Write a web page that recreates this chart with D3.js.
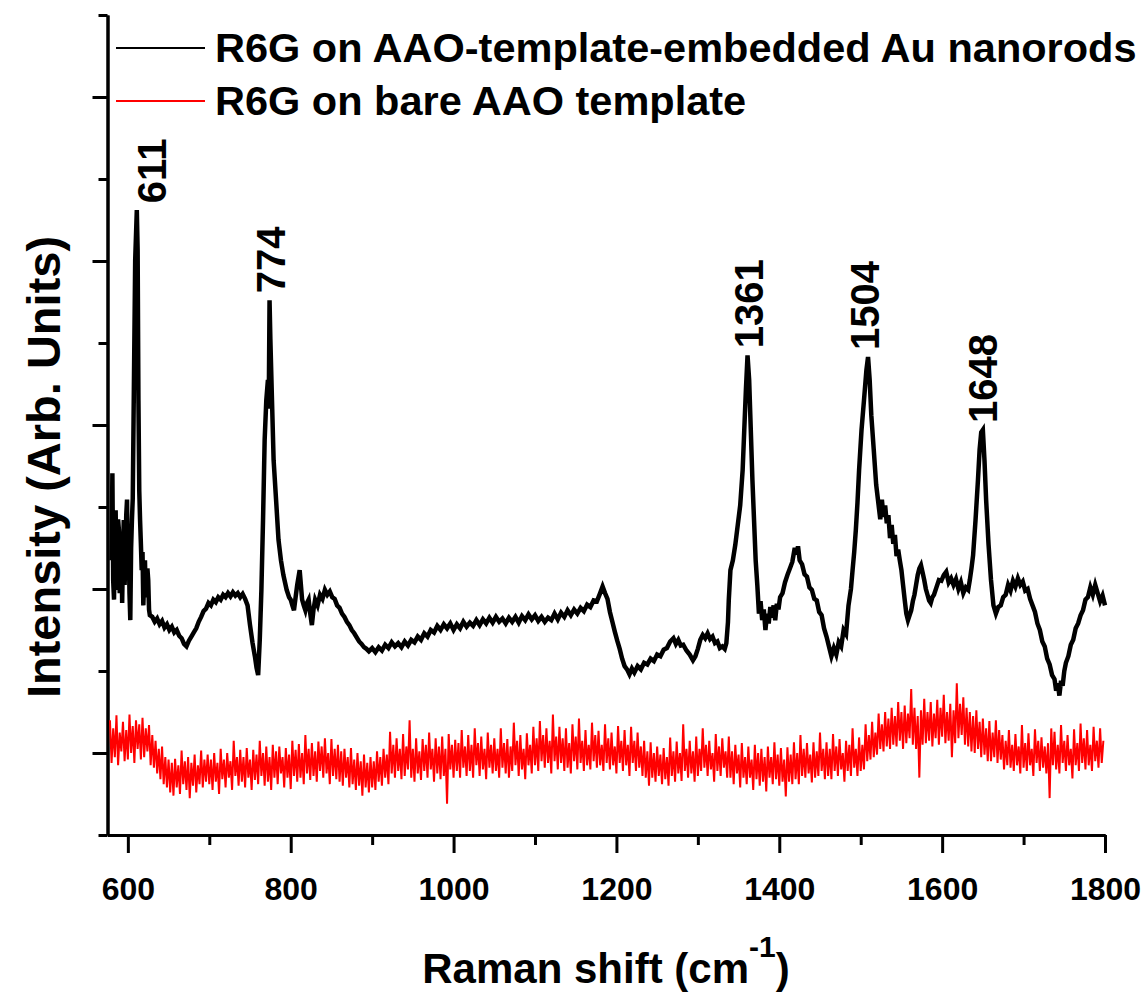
<!DOCTYPE html>
<html>
<head>
<meta charset="utf-8">
<script src="https://cdn.jsdelivr.net/npm/d3@7"></script>
<style>
body { margin: 0; background: #fff; }
text { font-family: Arial, "Liberation Sans", sans-serif; font-weight: bold; fill: #000; }
</style>
</head>
<body>
<script>
// Raman spectra: [shift (cm-1), intensity (arb.)]
var auNanorods = [
  [580,2.35],[581,3.41],[582,2.10],[583,1.87],[584,2.60],[585,2.96],[586,2.20],[587,1.99],[588,2.85],[589,2.72],
  [590,1.95],[591,2.11],[592,2.70],[593,1.83],[594,2.45],[595,2.84],[596,2.05],[597,2.35],[598,2.90],[599,3.09],
  [600,2.15],[601,2.60],[602,1.95],[603,1.62],[604,2.50],[605,2.84],[606,3.10],[607,4.06],[609,6.01],[611,6.62],
  [612,6.13],[613,4.30],[614,3.20],[615,2.84],[616,2.55],[617,2.23],[618,2.45],[619,1.80],[620,2.10],[621,2.35],
  [622,1.90],[623,1.99],[624,2.25],[625,2.11],[626,1.75],[627,1.68],[630,1.66],[633,1.60],[636,1.64],[639,1.57],
  [642,1.61],[645,1.53],[648,1.57],[651,1.50],[654,1.54],[657,1.47],[660,1.50],[663,1.43],[666,1.40],[669,1.33],
  [672,1.30],[675,1.37],[678,1.42],[681,1.47],[684,1.52],[687,1.60],[690,1.66],[693,1.73],[696,1.76],[699,1.83],
  [702,1.80],[705,1.87],[708,1.84],[711,1.90],[714,1.87],[717,1.93],[720,1.90],[723,1.95],[726,1.91],[729,1.96],
  [732,1.92],[735,1.95],[738,1.90],[741,1.94],[744,1.88],[747,1.80],[750,1.56],[753,1.35],[756,1.18],[758,1.04],
  [760,0.95],[762,1.38],[764,1.99],[766,2.84],[768,3.82],[770,4.30],[772,4.55],[773,4.20],[774,5.52],[775,5.05],
  [777,4.30],[779,3.57],[782,3.09],[785,2.60],[788,2.35],[791,2.17],[795,1.99],[798,1.90],[800,1.87],[802,1.80],
  [804,1.74],[806,1.90],[808,2.05],[811,2.23],[814,1.87],[816,1.80],[818,1.74],[820,1.83],[822,1.87],[824,1.70],
  [826,1.56],[828,1.75],[830,1.87],[833,1.80],[836,1.93],[839,1.88],[842,1.99],[845,1.93],[848,1.97],[851,1.90],
  [854,1.88],[857,1.80],[860,1.77],[863,1.70],[866,1.66],[869,1.60],[872,1.56],[875,1.50],[878,1.46],[881,1.41],
  [884,1.36],[887,1.33],[890,1.29],[893,1.27],[896,1.24],[900,1.28],[904,1.23],[908,1.29],[912,1.25],[916,1.32],
  [920,1.28],[924,1.35],[928,1.30],[932,1.34],[936,1.29],[940,1.36],[944,1.31],[948,1.38],[952,1.35],[956,1.42],
  [960,1.38],[964,1.46],[968,1.42],[972,1.50],[976,1.47],[980,1.55],[984,1.50],[988,1.57],[992,1.52],[996,1.58],
  [1000,1.50],[1004,1.57],[1008,1.52],[1012,1.60],[1016,1.54],[1020,1.59],[1024,1.55],[1028,1.62],[1032,1.56],[1036,1.63],
  [1040,1.58],[1044,1.65],[1048,1.59],[1052,1.66],[1056,1.60],[1060,1.64],[1064,1.58],[1068,1.65],[1072,1.60],[1076,1.66],
  [1080,1.59],[1084,1.67],[1088,1.62],[1092,1.69],[1096,1.63],[1100,1.68],[1104,1.61],[1108,1.66],[1112,1.60],[1116,1.65],
  [1120,1.62],[1124,1.70],[1128,1.63],[1132,1.71],[1136,1.66],[1140,1.74],[1144,1.68],[1148,1.75],[1152,1.70],[1156,1.77],
  [1160,1.73],[1164,1.81],[1168,1.78],[1172,1.86],[1176,1.85],[1180,1.95],[1183,2.03],[1186,1.95],[1189,1.88],[1192,1.72],
  [1195,1.60],[1198,1.48],[1201,1.37],[1204,1.27],[1207,1.15],[1210,1.06],[1213,1.02],[1216,0.96],[1219,1.03],[1222,0.98],
  [1226,1.06],[1230,1.02],[1234,1.10],[1238,1.08],[1242,1.15],[1246,1.12],[1250,1.20],[1254,1.18],[1258,1.26],[1262,1.28],
  [1266,1.36],[1270,1.40],[1273,1.33],[1276,1.38],[1279,1.31],[1282,1.32],[1286,1.25],[1290,1.20],[1294,1.13],[1297,1.18],
  [1300,1.27],[1303,1.38],[1306,1.44],[1309,1.40],[1312,1.46],[1315,1.39],[1318,1.42],[1321,1.34],[1324,1.36],[1327,1.28],
  [1330,1.30],[1333,1.27],[1335,1.34],[1337,1.60],[1338,1.87],[1340,2.23],[1343,2.35],[1346,2.54],[1349,2.78],[1352,3.02],
  [1355,3.45],[1357,3.94],[1359,4.43],[1361,4.85],[1363,4.55],[1365,3.94],[1367,3.33],[1369,2.84],[1371,2.35],[1373,2.05],
  [1375,1.70],[1377,1.85],[1379,1.62],[1381,1.75],[1383,1.50],[1385,1.70],[1387,1.58],[1389,1.78],[1391,1.65],[1393,1.80],
  [1395,1.62],[1397,1.82],[1399,1.75],[1401,1.90],[1404,1.95],[1407,2.08],[1410,2.17],[1413,2.25],[1416,2.33],[1419,2.50],
  [1421,2.42],[1423,2.52],[1425,2.35],[1428,2.30],[1431,2.18],[1434,2.15],[1437,2.02],[1440,1.99],[1443,1.88],[1446,1.86],
  [1449,1.72],[1452,1.68],[1455,1.52],[1458,1.42],[1461,1.30],[1464,1.18],[1467,1.28],[1470,1.20],[1473,1.35],[1476,1.30],
  [1479,1.50],[1482,1.45],[1485,1.80],[1488,2.00],[1490,2.23],[1492,2.45],[1494,2.72],[1496,3.05],[1498,3.45],[1501,3.94],
  [1504,4.30],[1507,4.67],[1509,4.83],[1511,4.55],[1513,4.12],[1516,3.70],[1519,3.27],[1522,3.02],[1524,2.85],[1526,3.09],
  [1528,2.88],[1530,3.02],[1532,2.80],[1534,2.90],[1536,2.62],[1538,2.78],[1540,2.55],[1542,2.66],[1544,2.40],[1546,2.48],
  [1548,2.35],[1550,2.23],[1552,2.05],[1554,1.87],[1556,1.70],[1558,1.62],[1560,1.68],[1562,1.74],[1564,1.85],[1566,1.93],
  [1568,2.05],[1570,2.17],[1572,2.25],[1574,2.29],[1576,2.20],[1578,2.11],[1580,2.00],[1582,1.93],[1584,1.86],[1586,1.83],
  [1588,1.90],[1590,1.93],[1593,2.02],[1596,2.11],[1599,2.10],[1602,2.17],[1605,2.21],[1608,2.08],[1611,2.13],[1614,2.05],
  [1617,2.12],[1620,2.00],[1623,2.08],[1626,1.95],[1629,2.02],[1632,1.99],[1634,2.11],[1636,2.25],[1638,2.41],[1641,2.84],
  [1644,3.33],[1646,3.70],[1648,3.91],[1650,3.94],[1652,3.57],[1654,3.09],[1657,2.54],[1660,2.11],[1663,1.80],[1666,1.70],
  [1669,1.78],[1672,1.80],[1675,1.90],[1678,1.93],[1681,2.05],[1684,1.98],[1687,2.10],[1690,2.03],[1693,2.13],[1696,2.05],
  [1699,2.09],[1702,1.98],[1705,2.00],[1708,1.88],[1711,1.80],[1714,1.72],[1717,1.58],[1720,1.50],[1723,1.36],[1726,1.30],
  [1729,1.15],[1732,1.08],[1735,0.95],[1738,0.90],[1740,0.76],[1742,0.85],[1744,0.70],[1746,0.88],[1748,0.82],[1750,1.00],
  [1752,1.10],[1755,1.18],[1758,1.32],[1761,1.38],[1764,1.52],[1767,1.58],[1770,1.68],[1773,1.74],[1776,1.87],[1779,1.90],
  [1782,2.02],[1785,1.93],[1788,2.05],[1791,1.95],[1794,1.85],[1797,1.92],[1800,1.80]
];

var bareAAO = [
  [578,0.40],[580,-0.12],[582,0.30],[584,-0.05],[586,0.46],[588,-0.15],[590,0.25],[592,0.02],[594,0.38],[596,-0.10],
  [598,0.28],[600,-0.08],[602,0.47],[604,0.00],[606,0.33],[608,-0.12],[610,0.40],[612,0.05],[614,0.35],[616,-0.08],
  [618,0.43],[620,-0.05],[622,0.30],[624,0.02],[626,0.34],[628,-0.15],[630,0.22],[632,-0.18],[634,0.15],[636,-0.25],
  [638,0.05],[640,-0.32],[642,0.08],[644,-0.38],[646,-0.05],[648,-0.42],[650,-0.08],[652,-0.48],[654,-0.12],[656,-0.52],
  [658,-0.07],[660,-0.42],[662,-0.15],[664,-0.50],[666,0.03],[668,-0.38],[670,-0.10],[672,-0.45],[674,-0.05],[676,-0.55],
  [678,-0.12],[680,-0.40],[682,-0.02],[684,-0.48],[686,-0.15],[688,-0.38],[690,0.03],[692,-0.42],[694,-0.08],[696,-0.35],
  [698,-0.02],[700,-0.38],[702,-0.08],[704,-0.45],[706,0.00],[708,-0.35],[710,-0.12],[712,-0.50],[714,0.05],[716,-0.32],
  [718,-0.08],[720,-0.42],[722,0.00],[724,-0.30],[726,-0.10],[728,-0.45],[730,0.15],[732,-0.28],[734,-0.05],[736,-0.40],
  [738,0.04],[740,-0.35],[742,-0.05],[744,-0.42],[746,0.06],[748,-0.30],[750,-0.08],[752,-0.45],[754,0.04],[756,-0.33],
  [758,-0.02],[760,-0.38],[762,0.15],[764,-0.28],[766,0.00],[768,-0.40],[770,0.08],[772,-0.35],[774,-0.05],[776,-0.45],
  [778,0.10],[780,-0.30],[782,0.02],[784,-0.38],[786,0.08],[788,-0.25],[790,-0.05],[792,-0.42],[794,0.06],[796,-0.30],
  [798,-0.02],[800,-0.44],[802,0.15],[804,-0.28],[806,0.04],[808,-0.35],[810,0.11],[812,-0.30],[814,0.00],[816,-0.38],
  [818,0.22],[820,-0.25],[822,0.05],[824,-0.33],[826,0.12],[828,-0.28],[830,0.02],[832,-0.35],[834,0.14],[836,-0.22],
  [838,0.08],[840,-0.30],[842,0.18],[844,-0.25],[846,0.00],[848,-0.38],[850,0.17],[852,-0.28],[854,0.05],[856,-0.32],
  [858,0.10],[860,-0.35],[862,0.02],[864,-0.40],[866,0.05],[868,-0.30],[870,-0.05],[872,-0.42],[874,0.06],[876,-0.38],
  [878,-0.08],[880,-0.45],[882,0.00],[884,-0.40],[886,-0.10],[888,-0.52],[890,-0.02],[892,-0.42],[894,-0.12],[896,-0.48],
  [898,-0.05],[900,-0.42],[902,-0.10],[904,-0.45],[906,0.02],[908,-0.35],[910,-0.05],[912,-0.40],[914,0.05],[916,-0.30],
  [918,-0.02],[920,-0.38],[922,0.26],[924,-0.25],[926,0.10],[928,-0.30],[930,0.18],[932,-0.22],[934,0.05],[936,-0.32],
  [938,0.23],[940,-0.28],[942,0.08],[944,-0.20],[946,0.40],[948,-0.30],[950,0.05],[952,-0.35],[954,0.18],[956,-0.25],
  [958,0.02],[960,-0.33],[962,0.17],[964,-0.22],[966,0.10],[968,-0.30],[970,0.25],[972,-0.20],[974,0.05],[976,-0.35],
  [978,0.18],[980,-0.25],[982,0.08],[984,-0.32],[986,0.20],[988,-0.28],[990,0.05],[992,-0.62],[994,0.23],[996,-0.20],
  [998,0.10],[1000,-0.30],[1002,0.16],[1004,-0.22],[1006,0.12],[1008,-0.30],[1010,0.28],[1012,-0.18],[1014,0.08],[1016,-0.28],
  [1018,0.22],[1020,-0.22],[1022,0.10],[1024,-0.30],[1026,0.30],[1028,-0.15],[1030,0.12],[1032,-0.28],[1034,0.20],[1036,-0.20],
  [1038,0.05],[1040,-0.32],[1042,0.25],[1044,-0.18],[1046,0.10],[1048,-0.25],[1050,0.18],[1052,-0.22],[1054,0.05],[1056,-0.30],
  [1058,0.30],[1060,-0.18],[1062,0.12],[1064,-0.25],[1066,0.17],[1068,-0.30],[1070,0.08],[1072,-0.22],[1074,0.37],[1076,-0.15],
  [1078,0.15],[1080,-0.28],[1082,0.22],[1084,-0.20],[1086,0.05],[1088,-0.32],[1090,0.24],[1092,-0.15],[1094,0.10],[1096,-0.25],
  [1098,0.32],[1100,-0.15],[1102,0.18],[1104,-0.22],[1106,0.39],[1108,-0.10],[1110,0.22],[1112,-0.18],[1114,0.30],[1116,-0.12],
  [1118,0.15],[1120,-0.25],[1122,0.47],[1124,-0.10],[1126,0.20],[1128,-0.20],[1130,0.32],[1132,-0.12],[1134,0.18],[1136,-0.22],
  [1138,0.30],[1140,-0.18],[1142,0.12],[1144,-0.25],[1146,0.35],[1148,-0.10],[1150,0.20],[1152,-0.20],[1154,0.42],[1156,-0.12],
  [1158,0.15],[1160,-0.22],[1162,0.28],[1164,-0.15],[1166,0.10],[1168,-0.20],[1170,0.37],[1172,-0.10],[1174,0.22],[1176,-0.18],
  [1178,0.27],[1180,-0.15],[1182,0.10],[1184,-0.22],[1186,0.35],[1188,-0.12],[1190,0.18],[1192,-0.20],[1194,0.25],[1196,-0.15],
  [1198,0.08],[1200,-0.25],[1202,0.33],[1204,-0.12],[1206,0.15],[1208,-0.22],[1210,0.28],[1212,-0.15],[1214,0.10],[1216,-0.28],
  [1218,0.32],[1220,-0.12],[1222,0.15],[1224,-0.22],[1226,0.25],[1228,-0.18],[1230,0.08],[1232,-0.28],[1234,0.15],[1236,-0.30],
  [1238,0.02],[1240,-0.40],[1242,0.13],[1244,-0.30],[1246,0.00],[1248,-0.35],[1250,0.08],[1252,-0.28],[1254,-0.02],[1256,-0.38],
  [1258,0.06],[1260,-0.32],[1262,-0.05],[1264,-0.40],[1266,0.19],[1268,-0.28],[1270,0.02],[1272,-0.35],[1274,0.14],[1276,-0.25],
  [1278,0.00],[1280,-0.34],[1282,0.35],[1284,-0.22],[1286,0.05],[1288,-0.30],[1290,0.15],[1292,-0.25],[1294,0.02],[1296,-0.35],
  [1298,0.20],[1300,-0.28],[1302,0.05],[1304,-0.22],[1306,0.30],[1308,-0.18],[1310,0.10],[1312,-0.28],[1314,0.15],[1316,-0.20],
  [1318,0.00],[1320,-0.35],[1322,0.23],[1324,-0.22],[1326,0.08],[1328,-0.28],[1330,0.18],[1332,-0.18],[1334,0.02],[1336,-0.30],
  [1338,0.20],[1340,-0.30],[1342,0.02],[1344,-0.38],[1346,0.10],[1348,-0.25],[1350,-0.02],[1352,-0.42],[1354,0.12],[1356,-0.30],
  [1358,-0.05],[1360,-0.38],[1362,0.08],[1364,-0.30],[1366,-0.08],[1368,-0.45],[1370,0.10],[1372,-0.32],[1374,0.00],[1376,-0.40],
  [1378,0.05],[1380,-0.35],[1382,-0.05],[1384,-0.47],[1386,0.08],[1388,-0.30],[1390,-0.05],[1392,-0.38],[1394,0.13],[1396,-0.32],
  [1398,-0.02],[1400,-0.40],[1402,0.06],[1404,-0.35],[1406,-0.08],[1408,-0.53],[1410,0.07],[1412,-0.35],[1414,-0.02],[1416,-0.38],
  [1418,0.13],[1420,-0.32],[1422,0.00],[1424,-0.38],[1426,0.22],[1428,-0.28],[1430,0.05],[1432,-0.30],[1434,0.12],[1436,-0.25],
  [1438,-0.02],[1440,-0.36],[1442,0.13],[1444,-0.30],[1446,0.02],[1448,-0.28],[1450,0.25],[1452,-0.22],[1454,0.05],[1456,-0.32],
  [1458,0.13],[1460,-0.28],[1462,0.05],[1464,-0.32],[1466,0.23],[1468,-0.22],[1470,0.08],[1472,-0.28],[1474,0.17],[1476,-0.20],
  [1478,0.00],[1480,-0.35],[1482,0.15],[1484,-0.22],[1486,0.10],[1488,-0.28],[1490,0.30],[1492,-0.18],[1494,0.05],[1496,-0.28],
  [1498,0.19],[1500,-0.22],[1502,0.10],[1504,-0.20],[1506,0.35],[1508,-0.10],[1510,0.22],[1512,-0.08],[1514,0.38],[1516,-0.05],
  [1518,0.25],[1520,-0.02],[1522,0.48],[1524,0.05],[1526,0.35],[1528,0.02],[1530,0.50],[1532,0.08],[1534,0.42],[1536,0.05],
  [1538,0.55],[1540,0.10],[1542,0.45],[1544,0.08],[1546,0.62],[1548,0.15],[1550,0.50],[1552,0.05],[1554,0.58],[1556,0.12],
  [1558,0.48],[1560,0.18],[1562,0.78],[1564,0.10],[1566,0.55],[1568,0.05],[1570,0.45],[1572,-0.30],[1574,0.52],[1576,0.10],
  [1578,0.66],[1580,0.12],[1582,0.50],[1584,0.15],[1586,0.62],[1588,0.08],[1590,0.48],[1592,0.18],[1594,0.65],[1596,0.10],
  [1598,0.55],[1600,0.20],[1602,0.71],[1604,0.12],[1606,0.50],[1608,0.15],[1610,0.60],[1612,-0.05],[1614,0.52],[1616,0.12],
  [1618,0.85],[1620,0.18],[1622,0.60],[1624,0.22],[1626,0.68],[1628,0.10],[1630,0.55],[1632,0.08],[1634,0.50],[1636,0.02],
  [1638,0.45],[1640,0.00],[1642,0.52],[1644,0.05],[1646,0.38],[1648,-0.05],[1650,0.42],[1652,-0.02],[1654,0.30],[1656,-0.10],
  [1658,0.39],[1660,-0.10],[1662,0.25],[1664,-0.05],[1666,0.40],[1668,-0.12],[1670,0.28],[1672,-0.08],[1674,0.22],[1676,-0.20],
  [1678,0.15],[1680,-0.15],[1682,0.28],[1684,-0.18],[1686,0.10],[1688,-0.22],[1690,0.23],[1692,-0.15],[1694,0.08],[1696,-0.25],
  [1698,0.34],[1700,-0.18],[1702,0.12],[1704,-0.22],[1706,0.24],[1708,-0.15],[1710,0.05],[1712,-0.28],[1714,0.29],[1716,-0.12],
  [1718,0.15],[1720,-0.22],[1722,0.19],[1724,-0.18],[1726,0.08],[1728,-0.25],[1730,0.12],[1732,-0.55],[1734,0.30],[1736,-0.15],
  [1738,0.26],[1740,-0.20],[1742,0.10],[1744,-0.25],[1746,0.34],[1748,-0.12],[1750,0.15],[1752,-0.22],[1754,0.22],[1756,-0.15],
  [1758,0.05],[1760,-0.31],[1762,0.29],[1764,-0.15],[1766,0.12],[1768,-0.22],[1770,0.36],[1772,-0.12],[1774,0.18],[1776,-0.20],
  [1778,0.28],[1780,-0.15],[1782,0.10],[1784,-0.22],[1786,0.32],[1788,-0.10],[1790,0.15],[1792,-0.18],[1794,0.30],[1796,-0.12],
  [1798,0.15]
];

var peaks = [611, 774, 1361, 1504, 1648];
var xMajor = [600, 800, 1000, 1200, 1400, 1600, 1800];
var xMinor = [700, 900, 1100, 1300, 1500, 1700];
var yMajor = [0, 2, 4, 6, 8];
var yMinor = [-1, 1, 3, 5, 7, 9];
var seriesNames = ["R6G on AAO-template-embedded Au nanorods", "R6G on bare AAO template"];
var seriesColors = ["#000000", "#ff0000"];

var w = 1146, h = 994;

var svg = d3.select("body").append("svg")
    .attr("width", w)
    .attr("height", h);

var x = d3.scaleLinear().domain([575, 1800]).range([107.5, 1105]);
var y = d3.scaleLinear().domain([-1, 9]).range([835, 15]);

// axes (Origin style: ticks out, no labels on y)
function styleAxis(g) {
  g.selectAll("path, line").attr("stroke", "#000").attr("stroke-width", 3);
}

svg.append("g")
    .attr("transform", "translate(0,835)")
    .call(d3.axisBottom(x).tickValues(xMinor).tickSize(10).tickSizeOuter(0).tickFormat(""))
    .call(styleAxis);

var xAxis = svg.append("g")
    .attr("transform", "translate(0,835)")
    .call(d3.axisBottom(x).tickValues(xMajor).tickSize(18).tickSizeOuter(0).tickFormat(d3.format("d")))
    .call(styleAxis);
xAxis.selectAll("text")
    .attr("y", 65)
    .attr("dy", null)
    .style("font-size", "32px")
    .style("font-weight", "bold")
    .style("font-family", "Arial, 'Liberation Sans', sans-serif")
    .attr("fill", "#000");

svg.append("g")
    .attr("transform", "translate(107.5,0)")
    .call(d3.axisLeft(y).tickValues(yMinor).tickSize(9).tickSizeOuter(0).tickFormat(""))
    .call(styleAxis);
svg.append("g")
    .attr("transform", "translate(107.5,0)")
    .call(d3.axisLeft(y).tickValues(yMajor).tickSize(15).tickSizeOuter(0).tickFormat(""))
    .call(styleAxis);

// spectra
var line = d3.line()
    .x(function(d) { return x(d[0]); })
    .y(function(d) { return y(d[1]); });

svg.append("path")
    .datum(bareAAO)
    .attr("fill", "none")
    .attr("stroke", seriesColors[1])
    .attr("stroke-width", 2)
    .attr("d", line);

svg.append("path")
    .datum(auNanorods)
    .attr("fill", "none")
    .attr("stroke", seriesColors[0])
    .attr("stroke-width", 4.5)
    .attr("d", line);

// peak labels, rotated, sitting just above each peak top
svg.selectAll(".peak")
    .data(peaks)
    .enter()
    .append("text")
    .attr("class", "peak")
    .attr("transform", function(d, i) {
      var top = d3.max(auNanorods.filter(function(p) { return Math.abs(p[0] - d) <= 6; }), function(p) { return p[1]; });
      var nudge = i === 0 ? 15 : 1;
      return "translate(" + (x(d) + nudge) + "," + (y(top) - 7) + ") rotate(-90)";
    })
    .attr("dy", "0.36em")
    .style("font-size", "40px")
    .text(function(d) { return d; });

// legend
var legend = svg.selectAll(".legend")
    .data(seriesNames)
    .enter()
    .append("g")
    .attr("class", "legend")
    .attr("transform", function(d, i) { return "translate(0," + (48 + i * 53) + ")"; });

legend.append("line")
    .attr("x1", 116).attr("x2", 205)
    .attr("y1", 0).attr("y2", 0)
    .attr("stroke", function(d, i) { return seriesColors[i]; })
    .attr("stroke-width", 2);

legend.append("text")
    .attr("x", 215)
    .attr("y", 14)
    .style("font-size", "41.5px")
    .text(function(d) { return d; });

// axis titles
var xTitle = svg.append("text")
    .attr("x", 606)
    .attr("y", 983)
    .attr("text-anchor", "middle")
    .style("font-size", "42px");
xTitle.append("tspan").text("Raman shift (cm");
xTitle.append("tspan").attr("dy", -26).style("font-size", "30px").text("-1");
xTitle.append("tspan").attr("dy", 26).text(")");

svg.append("text")
    .attr("transform", "translate(60,467) rotate(-90)")
    .attr("text-anchor", "middle")
    .style("font-size", "47px")
    .text("Intensity (Arb. Units)");
</script>
</body>
</html>
